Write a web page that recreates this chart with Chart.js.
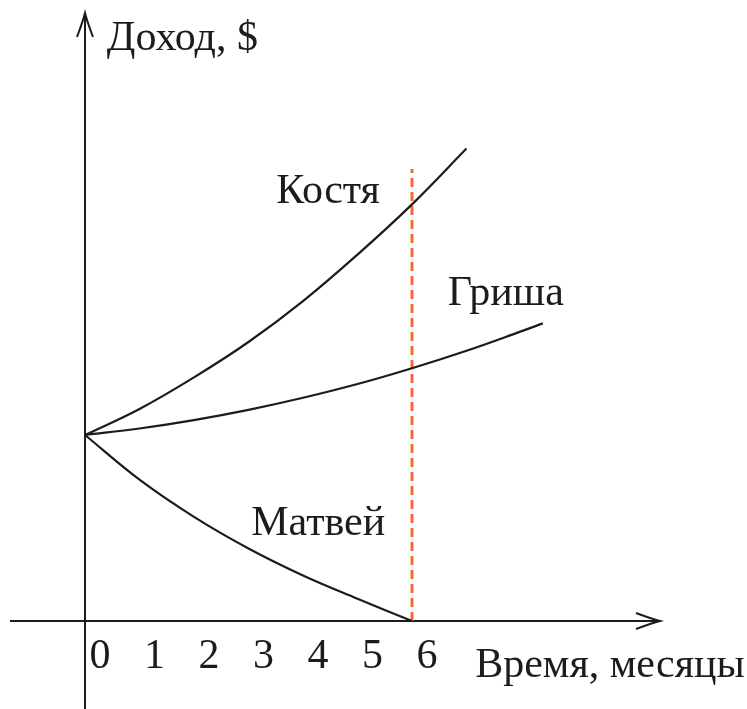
<!DOCTYPE html>
<html lang="ru">
<head>
<meta charset="utf-8">
<title>Доход</title>
<script src="https://cdn.jsdelivr.net/npm/chart.js@4.4.1/dist/chart.umd.min.js"></script>
<style>
  html, body { margin: 0; padding: 0; background: #fff; }
  canvas { display: block; }
</style>
</head>
<body>
<canvas id="chart" width="747" height="709"></canvas>
<script>
// values (income in $, start = 100)
const monthTicks = [0, 1, 2, 3, 4, 5, 6];
const kostyaMonths = [0, 1, 2, 3, 4, 5, 6, 7];
const kostyaIncome = [100, 114, 131, 150, 172, 197, 224, 254];
const grishaMonths = [0, 1, 2, 3, 4, 5, 6, 7, 8, 8.4];
const grishaIncome = [100, 103.5, 108, 113.5, 120, 127.4, 135.9, 145.3, 155.7, 160];
const matveyMonths = [0, 1, 2, 3, 4, 5, 6];
const matveyIncome = [100, 76, 56, 39, 24.5, 12, 0];
const markerMonths = [6, 6];
const markerIncome = [0, 243];

const toPoints = (xs, ys) => xs.map((x, i) => ({ x: x, y: ys[i] }));

const FONT = '42px "Liberation Serif", "DejaVu Serif", serif';
const INK = '#1c1c1c';

// where the curve names and axis titles sit, in chart units
const textLabels = [
    { text: 'Костя', x: 4.46, y: 224.7, align: 'center' },
    { text: 'Гриша', x: 7.72, y: 169.9, align: 'center' },
    { text: 'Матвей', x: 4.28, y: 46.2, align: 'center' },
    { text: 'Доход, $', x: 0.40, y: 307, align: 'left' },
    { text: 'Время, месяцы', x: 7.16, y: -30.1, align: 'left' }
];

function arrowHead(ctx, tipX, tipY, dx, dy) {
    // open LaTeX-style arrow, dx/dy = direction of the arrow
    const len = 24, half = 8;
    const bx = tipX - dx * len, by = tipY - dy * len;
    const px = -dy, py = dx;
    ctx.beginPath();
    ctx.moveTo(bx + px * half, by + py * half);
    ctx.quadraticCurveTo(tipX - dx * 8 + px * 2, tipY - dy * 8 + py * 2, tipX, tipY);
    ctx.quadraticCurveTo(tipX - dx * 8 - px * 2, tipY - dy * 8 - py * 2, bx - px * half, by - py * half);
    ctx.stroke();
}

const axesPlugin = {
    id: 'axesPlugin',
    beforeDatasetsDraw(chart) {
        const { ctx, scales: { x, y } } = chart;
        const x0 = x.getPixelForValue(0);
        const y0 = y.getPixelForValue(0);
        ctx.save();
        ctx.strokeStyle = INK;
        ctx.lineWidth = 2;
        // y axis
        ctx.beginPath();
        ctx.moveTo(x0, chart.height);
        ctx.lineTo(x0, 13);
        ctx.stroke();
        arrowHead(ctx, x0, 13, 0, -1);
        // x axis
        ctx.beginPath();
        ctx.moveTo(10, y0);
        ctx.lineTo(660, y0);
        ctx.stroke();
        arrowHead(ctx, 660, y0, 1, 0);
        ctx.restore();
    },
    afterDatasetsDraw(chart) {
        const { ctx, scales: { x, y } } = chart;
        const y0 = y.getPixelForValue(0);
        ctx.save();
        ctx.fillStyle = INK;
        ctx.font = FONT;
        ctx.textBaseline = 'alphabetic';
        ctx.textAlign = 'center';
        monthTicks.forEach(m => {
            ctx.fillText(String(m), x.getPixelForValue(m) + 15, y0 + 47);
        });
        textLabels.forEach(l => {
            ctx.textAlign = l.align;
            ctx.fillText(l.text, x.getPixelForValue(l.x), y.getPixelForValue(l.y));
        });
        ctx.restore();
    }
};

const curve = (label, xs, ys) => ({
    label: label,
    data: toPoints(xs, ys),
    borderColor: INK,
    borderWidth: 2.2,
    pointRadius: 0,
    tension: 0.4,
    fill: false
});

new Chart(document.getElementById('chart'), {
    type: 'line',
    data: {
        datasets: [
            curve('Костя', kostyaMonths, kostyaIncome),
            curve('Гриша', grishaMonths, grishaIncome),
            curve('Матвей', matveyMonths, matveyIncome),
            {
                label: '6 месяцев',
                data: toPoints(markerMonths, markerIncome),
                borderColor: '#f26a3c',
                borderWidth: 3,
                borderDash: [9, 5],
                pointRadius: 0,
                fill: false
            }
        ]
    },
    options: {
        responsive: false,
        animation: false,
        layout: { padding: 0 },
        plugins: {
            legend: { display: false },
            tooltip: { enabled: false }
        },
        scales: {
            x: { type: 'linear', display: false, min: -1.5596, max: 12.147 },
            y: { type: 'linear', display: false, min: -47.31, max: 333.87 }
        }
    },
    plugins: [axesPlugin]
});
</script>
</body>
</html>
